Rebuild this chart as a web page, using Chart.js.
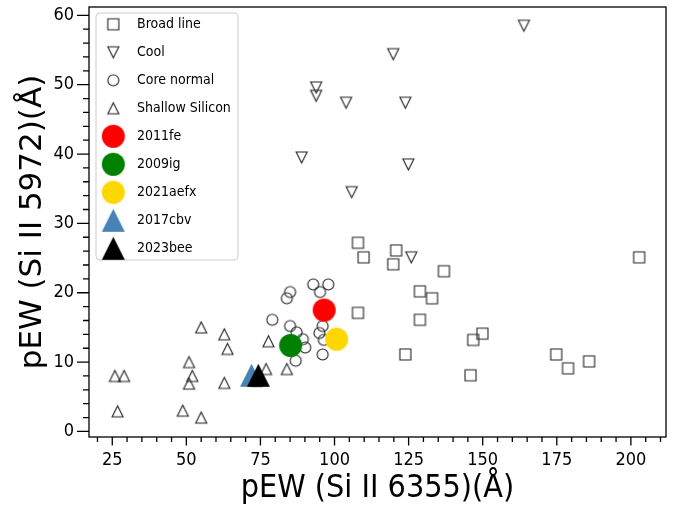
<!DOCTYPE html>
<html>
<head>
<meta charset="utf-8">
<script src="https://cdn.jsdelivr.net/npm/chart.js@4.4.1/dist/chart.umd.min.js"></script>
<style>
  html, body { margin: 0; padding: 0; background: #fff; }
</style>
</head>
<body>
<canvas id="c" width="678" height="508"></canvas>
<script>
// pEW of Si II 6355 (x) against Si II 5972 (y), Branch groups plus single SNe
const broadX = [107.9, 109.8, 120.8, 119.8, 136.9, 128.8, 132.9, 107.9, 128.8, 123.9, 149.9, 146.8, 145.9, 174.8, 178.8, 185.9, 202.8, 73.8];
const broadY = [27.2, 25.1, 26.1, 24.1, 23.1, 20.2, 19.2, 17.1, 16.1, 11.1, 14.1, 13.2, 8.1, 11.1, 9.1, 10.1, 25.1, 7.3];

const coolX = [163.9, 119.8, 93.8, 93.8, 103.9, 123.9, 88.9, 124.9, 105.8, 125.9];
const coolY = [58.5, 54.4, 49.6, 48.4, 47.4, 47.4, 39.5, 38.5, 34.5, 25.1];

const coreX = [92.8, 97.9, 95.1, 85.0, 83.9, 79.0, 85.0, 96.0, 87.2, 94.9, 89.3, 96.4, 90.1, 96.0, 86.9];
const coreY = [21.2, 21.2, 20.1, 20.1, 19.2, 16.1, 15.2, 15.2, 14.3, 14.2, 13.3, 13.2, 12.1, 11.1, 10.2];

const shallowX = [25.9, 29.0, 26.8, 55.0, 62.8, 63.9, 50.9, 52.0, 50.9, 62.8, 48.8, 55.0, 77.7, 76.9, 83.9];
const shallowY = [8.0, 8.0, 2.9, 15.0, 14.0, 11.9, 10.0, 8.0, 6.9, 7.0, 3.0, 2.0, 13.0, 9.0, 9.0];

const snNames = ['2011fe', '2009ig', '2021aefx', '2017cbv', '2023bee'];
const snX = [96.5, 85.2, 100.7, 72.0, 74.3];
const snY = [17.5, 12.4, 13.3, 8.1, 8.1];

const groupNames = ['Broad line', 'Cool', 'Core normal', 'Shallow Silicon'];

const xTicks = [25, 50, 75, 100, 125, 150, 175, 200];
const yTicks = [0, 10, 20, 30, 40, 50, 60];
const xTitle = 'pEW (Si II 6355)(Å)';
const yTitle = 'pEW (Si II 5972)(Å)';

// marker sprites (matplotlib-like shapes)
function marker(shape, size, fill, stroke, lw) {
  const pad = 2;
  const dim = Math.ceil(size) + 2 * pad;
  const cv = document.createElement('canvas');
  cv.width = dim; cv.height = dim;
  const g = cv.getContext('2d');
  const c = dim / 2, h = size / 2;
  g.beginPath();
  if (shape === 'circle') g.arc(c, c, h, 0, Math.PI * 2);
  else if (shape === 'square') g.rect(c - h, c - h, size, size);
  else if (shape === 'up') { g.moveTo(c, c - h); g.lineTo(c + h, c + h); g.lineTo(c - h, c + h); g.closePath(); }
  else if (shape === 'down') { g.moveTo(c, c + h); g.lineTo(c + h, c - h); g.lineTo(c - h, c - h); g.closePath(); }
  if (fill) { g.fillStyle = fill; g.fill(); }
  if (stroke) { g.strokeStyle = stroke; g.lineWidth = lw; g.stroke(); }
  return cv;
}

const edge = '#222';
const small = 11, big = 23;
const groupMarkers = [
  marker('square', small, null, edge, 1.1),
  marker('down', small, null, edge, 1.1),
  marker('circle', small, null, edge, 1.1),
  marker('up', small, null, edge, 1.1)
];
const snMarkers = [
  marker('circle', big, '#ff0000'),
  marker('circle', big, '#008000'),
  marker('circle', big, '#ffd700'),
  marker('up', big, '#4682b4'),
  marker('up', big, '#000000')
];

const groupXs = [broadX, coolX, coreX, shallowX];
const groupYs = [broadY, coolY, coreY, shallowY];

const datasets = [];
groupNames.forEach((name, i) => {
  datasets.push({ label: name, data: groupXs[i].map((x, j) => ({ x, y: groupYs[i][j] })), pointStyle: groupMarkers[i] });
});
snNames.forEach((name, i) => {
  datasets.push({ label: name, data: [{ x: snX[i], y: snY[i] }], pointStyle: snMarkers[i] });
});
// later datasets on top
datasets.forEach((d, i) => { d.order = datasets.length - i; d.pointRadius = 6; d.pointHoverRadius = 6; });

const axesFrame = {
  id: 'axesFrame',
  afterDatasetsDraw(chart) {
    const { ctx, chartArea: a, scales: { x, y } } = chart;
    ctx.save();
    ctx.strokeStyle = '#000';
    ctx.lineWidth = 1.3;
    ctx.strokeRect(a.left, a.top, a.right - a.left, a.bottom - a.top);
    ctx.beginPath();
    for (let v = 20; v <= 210; v += 5) {
      const px = x.getPixelForValue(v);
      const len = xTicks.includes(v) ? 8.5 : 5;
      ctx.moveTo(px, a.bottom); ctx.lineTo(px, a.bottom + len);
    }
    for (let v = 0; v <= 60; v += 2) {
      const py = y.getPixelForValue(v);
      const len = yTicks.includes(v) ? 12 : 6;
      ctx.moveTo(a.left, py); ctx.lineTo(a.left - len, py);
    }
    ctx.stroke();
    ctx.restore();
  }
};

const boxLegend = {
  id: 'boxLegend',
  afterDraw(chart) {
    const ctx = chart.ctx;
    const L = 96, T = 13, W = 142, H = 247, r = 4;
    ctx.save();
    ctx.beginPath();
    ctx.moveTo(L + r, T);
    ctx.arcTo(L + W, T, L + W, T + H, r);
    ctx.arcTo(L + W, T + H, L, T + H, r);
    ctx.arcTo(L, T + H, L, T, r);
    ctx.arcTo(L, T, L + W, T, r);
    ctx.closePath();
    ctx.fillStyle = 'rgba(255,255,255,0.8)';
    ctx.fill();
    ctx.strokeStyle = '#cccccc';
    ctx.lineWidth = 1;
    ctx.stroke();
    ctx.font = '14px "DejaVu Sans Condensed"';
    ctx.fillStyle = '#000';
    ctx.textBaseline = 'middle';
    ctx.textAlign = 'left';
    chart.data.datasets.forEach((d, i) => {
      const cy = 24.3 + 28 * i;
      const img = d.pointStyle;
      ctx.drawImage(img, 113.3 - img.width / 2, cy - img.height / 2);
      ctx.fillText(d.label, 137, cy);
    });
    ctx.restore();
  }
};

function noPad(s) {
  s.paddingTop = 0; s.paddingBottom = 0; s.paddingLeft = 0; s.paddingRight = 0;
}

new Chart(document.getElementById('c'), {
  type: 'scatter',
  data: { datasets },
  options: {
    responsive: false,
    animation: false,
    events: [],
    layout: { padding: { top: 6, right: 12, left: 0, bottom: 0 } },
    plugins: { legend: { display: false }, tooltip: { enabled: false } },
    scales: {
      x: {
        type: 'linear', min: 17.15, max: 211.85,
        afterBuildTicks: s => { s.ticks = xTicks.map(v => ({ value: v })); },
        afterFit: s => { s.height = 71; noPad(s); },
        grid: { display: false, drawTicks: false },
        border: { display: false },
        ticks: { padding: 13, color: '#000', autoSkip: false, maxRotation: 0,
                 font: { family: 'DejaVu Sans Condensed', size: 18 } },
        title: { display: true, text: xTitle, color: '#000', padding: { top: 0, bottom: 0 },
                 font: { family: 'DejaVu Sans Condensed', size: 32, weight: 'normal' } }
      },
      y: {
        type: 'linear', min: -0.8, max: 61.2,
        afterBuildTicks: s => { s.ticks = yTicks.map(v => ({ value: v })); },
        afterFit: s => { s.width = 89; noPad(s); },
        grid: { display: false, drawTicks: false },
        border: { display: false },
        ticks: { padding: 15, color: '#000', autoSkip: false,
                 font: { family: 'DejaVu Sans Condensed', size: 18 } },
        title: { display: true, text: yTitle, color: '#000', padding: { top: 14, bottom: 0 },
                 font: { family: 'DejaVu Sans', size: 31, weight: 'normal' } }
      }
    }
  },
  plugins: [axesFrame, boxLegend]
});
</script>
</body>
</html>
